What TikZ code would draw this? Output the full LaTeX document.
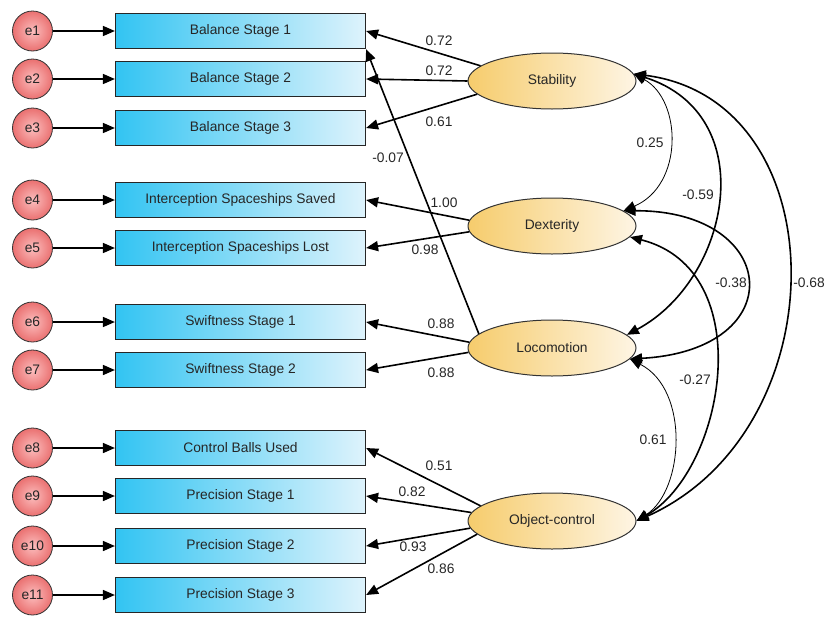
\documentclass[tikz,border=0pt]{standalone}
\usepackage{fontspec}
\setmainfont{Liberation Sans}
\usetikzlibrary{arrows.meta,shapes.geometric,positioning}

\definecolor{boxL}{RGB}{50,196,242}
\definecolor{boxR}{RGB}{222,243,252}
\definecolor{latL}{RGB}{246,204,108}
\definecolor{latR}{RGB}{254,245,228}
\definecolor{errIn}{RGB}{252,190,190}
\definecolor{errOut}{RGB}{234,112,112}

\begin{document}
\begin{tikzpicture}[x=1pt, y=-1pt, font=\fontsize{13.8}{16}\selectfont,
    obs/.style={rectangle, draw=black!85, line width=1.2pt, minimum width=250pt, minimum height=35pt, left color=boxL, right color=boxR, text=black!85},
    err/.style={circle, draw=black!80, line width=0.8pt, minimum size=40pt, inner sep=0pt, inner color=errIn, outer color=errOut, text=black!85},
    lat/.style={ellipse, draw=black!80, line width=1pt, minimum width=168pt, minimum height=56pt, left color=latL, right color=latR, text=black!85},
    load/.style={-{Triangle[length=12pt,width=10pt]}, line width=1.6pt},
    cov/.style={{Triangle[length=12pt,width=10pt]}-{Triangle[length=12pt,width=10pt]}, line width=1.6pt},
    covthin/.style={cov, line width=0.8pt},
    lbl/.style={inner sep=1pt, text=black!85}]
    \useasboundingbox (0,0) rectangle (827,616);

    % observed indicators
    \node[obs] (bal1) at (240.5,31) {Balance Stage 1};
    \node[obs] (bal2) at (240.5,79) {Balance Stage 2};
    \node[obs] (bal3) at (240.5,128) {Balance Stage 3};
    \node[obs] (saved) at (240.5,200) {Interception Spaceships Saved};
    \node[obs] (lost) at (240.5,248) {Interception Spaceships Lost};
    \node[obs] (swift1) at (240.5,322) {Swiftness Stage 1};
    \node[obs] (swift2) at (240.5,370) {Swiftness Stage 2};
    \node[obs] (balls) at (240.5,448) {Control Balls Used};
    \node[obs] (prec1) at (240.5,496) {Precision Stage 1};
    \node[obs] (prec2) at (240.5,546) {Precision Stage 2};
    \node[obs] (prec3) at (240.5,595) {Precision Stage 3};

    % error terms
    \foreach \i/\b in {1/bal1, 2/bal2, 3/bal3, 4/saved, 5/lost, 6/swift1, 7/swift2, 8/balls, 9/prec1, 10/prec2, 11/prec3} {
        \node[err, left=62pt of \b] (e\i) {e\i};
        \draw[load] (e\i) -- (\b);
    }

    % latent factors
    \node[lat] (stab) at (552,81) {Stability};
    \node[lat] (dext) at (552,226) {Dexterity};
    \node[lat] (loco) at (552,348) {Locomotion};
    \node[lat] (obj) at (552,521) {Object-control};

    % loadings
    \draw[load] (stab.168) -- (bal1.east);
    \draw[load] (stab.west) -- (bal2.east);
    \draw[load] (stab.190) -- (bal3.east);
    \draw[load] (loco.169) -- (bal1.south east);
    \draw[load] (dext.176) -- (saved.east);
    \draw[load] (dext.184) -- (lost.east);
    \draw[load] (loco.176) -- (swift1.east);
    \draw[load] (loco.183) -- (swift2.east);
    \draw[load] (obj.168) -- (balls.east);
    \draw[load] (obj.174) -- (prec1.east);
    \draw[load] (obj.185) -- (prec2.east);
    \draw[load] (obj.190) -- (prec3.east);

    \node[lbl] (w1) at (439,41) {0.72};
    \node[lbl] (w2) at (439,71) {0.72};
    \node[lbl] (w3) at (439,122) {0.61};
    \node[lbl] (w4) at (388,158) {-0.07};
    \node[lbl] (w5) at (444,203) {1.00};
    \node[lbl] (w6) at (425,250) {0.98};
    \node[lbl] (w7) at (441,324) {0.88};
    \node[lbl] (w8) at (441,373) {0.88};
    \node[lbl] (w9) at (439,466) {0.51};
    \node[lbl] (w10) at (412,492) {0.82};
    \node[lbl] (w11) at (413,547) {0.93};
    \node[lbl] (w12) at (441,569) {0.86};

    % correlations
    \draw[covthin] (stab.5) .. controls (682,100) and (684,185) .. (dext.12);
    \draw[cov] (stab.5) .. controls (763,115) and (730,280) .. (loco.10);
    \draw[cov] (stab.5) .. controls (839,100) and (840,430) .. (obj.east);
    \draw[cov] (dext.12) .. controls (780,210) and (793,350) .. (loco.-8);
    \draw[cov] (dext.-8) .. controls (760,270) and (725,470) .. (obj.east);
    \draw[covthin] (loco.-8) .. controls (690,390) and (684,490) .. (obj.east);

    \node[lbl] (r1) at (650,143) {0.25};
    \node[lbl] (r2) at (698,195) {-0.59};
    \node[lbl] (r3) at (731,283) {-0.38};
    \node[lbl] (r4) at (809,283) {-0.68};
    \node[lbl] (r5) at (695,380) {-0.27};
    \node[lbl] (r6) at (653,440) {0.61};
\end{tikzpicture}
\end{document}
